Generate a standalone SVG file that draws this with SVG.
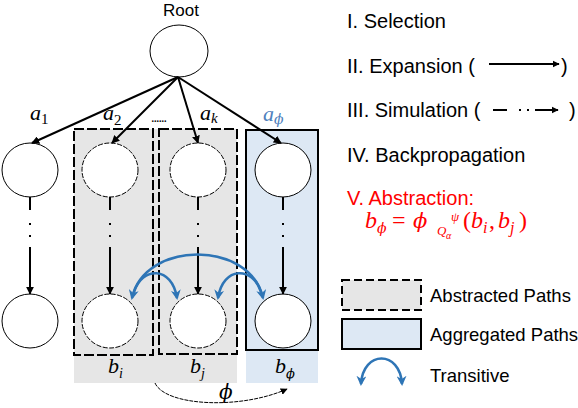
<svg xmlns="http://www.w3.org/2000/svg" width="578" height="408" viewBox="0 0 578 408">
<style>
.node{fill:#fff;stroke:#000;stroke-width:1}
.dnode{fill:#fff;stroke:#000;stroke-width:1;stroke-dasharray:5 1.5}
.sans{font-family:"Liberation Sans",Arial,sans-serif;fill:#000}
.math{font-family:"Liberation Serif","DejaVu Serif",serif;font-style:italic}
.phi{font-family:"DejaVu Serif","Liberation Serif",serif;font-style:italic}
.edge{fill:none;stroke:#000;stroke-width:2}
.sim{fill:none;stroke:#000;stroke-width:2;stroke-dasharray:13 13 2 10 2 10 60}
.trans{fill:none;stroke:#2e75b6;stroke-width:2.5}
.dbox{fill:none;stroke:#000;stroke-width:2;stroke-dasharray:10 3}
</style>
<defs>
<marker id="ah" viewBox="0 0 10 10" refX="9" refY="5" markerWidth="4" markerHeight="4" orient="auto" markerUnits="strokeWidth">
<path d="M0,0 L10,5 L0,10 z" fill="#000"/>
</marker>
<marker id="ahs" viewBox="0 0 10 10" refX="9" refY="5" markerWidth="7" markerHeight="7" orient="auto" markerUnits="strokeWidth">
<path d="M0,0 L10,5 L0,10 z" fill="#000"/>
</marker>
<marker id="bh" viewBox="0 0 10 10" refX="8" refY="5" markerWidth="4" markerHeight="4" orient="auto-start-reverse" markerUnits="strokeWidth">
<path d="M0,0 L10,5 L0,10 L3,5 z" fill="#2e75b6"/>
</marker>
</defs>

<g id="backgrounds">
<rect x="74" y="129" width="163" height="254" fill="#e6e6e6"/>
<rect x="246" y="129" width="72" height="254" fill="#dde8f4"/>
<rect class="dbox" x="74" y="129" width="79" height="226"/>
<rect class="dbox" x="159" y="129" width="78" height="225"/>
<rect x="246" y="130" width="72" height="220" fill="none" stroke="#000" stroke-width="2"/>
</g>

<g id="root">
<ellipse class="node" cx="179" cy="51" rx="29" ry="26"/>
<text class="sans" x="181" y="16" font-size="17" text-anchor="middle">Root</text>
</g>
<g id="n-a1"><ellipse class="node" cx="30" cy="170" rx="28" ry="27"/></g>
<g id="n-a2"><ellipse class="dnode" cx="110" cy="170" rx="28" ry="27"/></g>
<g id="n-ak"><ellipse class="dnode" cx="198" cy="170" rx="28" ry="27"/></g>
<g id="n-aphi"><ellipse class="node" cx="283" cy="170" rx="28" ry="27"/></g>
<g id="n-b1"><ellipse class="node" cx="30" cy="321" rx="28" ry="27"/></g>
<g id="n-bi"><ellipse class="dnode" cx="110" cy="321" rx="28" ry="27"/></g>
<g id="n-bj"><ellipse class="dnode" cx="198" cy="321" rx="28" ry="27"/></g>
<g id="n-bphi"><ellipse class="node" cx="283" cy="321" rx="28" ry="27"/></g>

<g id="connectors">
<line class="edge" x1="178" y1="77" x2="32" y2="143" marker-end="url(#ah)"/>
<line class="edge" x1="178" y1="77" x2="112" y2="143" marker-end="url(#ah)"/>
<line class="edge" x1="178" y1="77" x2="198" y2="143" marker-end="url(#ah)"/>
<line class="edge" x1="178" y1="77" x2="281" y2="143" marker-end="url(#ah)"/>
<line class="sim" x1="30" y1="197" x2="30" y2="294" marker-end="url(#ah)"/>
<line class="sim" x1="110" y1="197" x2="110" y2="294" marker-end="url(#ah)"/>
<line class="sim" x1="198" y1="197" x2="198" y2="294" marker-end="url(#ah)"/>
<line class="sim" x1="283" y1="197" x2="283" y2="294" marker-end="url(#ah)"/>
<path class="trans" d="M132,298 C145,240 250,240 263,298" marker-start="url(#bh)" marker-end="url(#bh)"/>
<path class="trans" d="M134,292 C142,266 172,266 177,298" marker-end="url(#bh)"/>
<path class="trans" d="M261,292 C253,266 223,266 218,298" marker-end="url(#bh)"/>
<path d="M155,383 C165,406 240,410 287,389" fill="none" stroke="#000" stroke-width="1" stroke-dasharray="4 1" marker-end="url(#ahs)"/>
</g>

<g id="labels" class="math" font-size="22">
<text x="30" y="120">a<tspan font-size="15" font-style="normal" dy="4">1</tspan></text>
<text x="103" y="120">a<tspan font-size="15" font-style="normal" dy="5">2</tspan></text>
<text x="151" y="122" font-style="normal" font-size="14" letter-spacing="-1">......</text>
<text x="200" y="120">a<tspan font-size="15" dy="3">k</tspan></text>
<text x="263" y="121" fill="#4f81bd">a<tspan class="phi" font-size="14" dy="3">ϕ</tspan></text>
<text x="108" y="373">b<tspan font-size="14" dy="5">i</tspan></text>
<text x="190" y="373">b<tspan font-size="14" dy="5">j</tspan></text>
<text x="275" y="373">b<tspan class="phi" font-size="13" dy="5">ϕ</tspan></text>
<text class="phi" x="219" y="399" font-size="20">ϕ</text>
</g>

<g id="legend">
<text class="sans" x="347" y="28" font-size="20">I. Selection</text>
<text class="sans" x="347" y="73" font-size="20">II. Expansion (</text>
<line x1="489" y1="64" x2="559" y2="64" stroke="#000" stroke-width="1.8" marker-end="url(#ah)"/>
<text class="sans" x="561" y="73" font-size="20">)</text>
<text class="sans" x="347" y="117" font-size="20">III. Simulation (</text>
<line x1="493" y1="110" x2="558" y2="110" stroke="#000" stroke-width="1.8" stroke-dasharray="14 12 2 6 2 6 30" marker-end="url(#ah)"/>
<text class="sans" x="569" y="117" font-size="20">)</text>
<text class="sans" x="347" y="162" font-size="20">IV. Backpropagation</text>
<text class="sans" x="347" y="205" font-size="20" style="fill:#ff0000">V. Abstraction:</text>
<text class="math" y="228" font-size="24" fill="#ff0000"><tspan x="365">b</tspan><tspan class="phi" x="377" y="233" font-size="14">ϕ</tspan><tspan x="392" y="228" font-style="normal">=</tspan><tspan class="phi" x="413" y="228" font-size="21">ϕ</tspan><tspan x="437" y="235" font-size="13">Q</tspan><tspan x="446" y="239" font-size="10">α</tspan><tspan x="451" y="221" font-size="13">ψ</tspan><tspan x="463" y="228" font-style="normal">(</tspan><tspan x="471">b</tspan><tspan x="483" y="233" font-size="16">i</tspan><tspan x="489" y="228" font-style="normal">,</tspan><tspan x="498">b</tspan><tspan x="510" y="233" font-size="16">j</tspan><tspan x="519" y="228" font-style="normal">)</tspan></text>
<rect x="342" y="280" width="79" height="30" fill="#e6e6e6" stroke="#000" stroke-width="2" stroke-dasharray="8 4"/>
<text class="sans" x="430" y="302" font-size="18.5">Abstracted Paths</text>
<rect x="342" y="319" width="79" height="30" fill="#dde8f4" stroke="#000" stroke-width="2"/>
<text class="sans" x="430" y="341" font-size="18.5">Aggregated Paths</text>
<path class="trans" d="M361,384 C363,350 400,350 402,384" marker-start="url(#bh)" marker-end="url(#bh)"/>
<text class="sans" x="430" y="382" font-size="18.5">Transitive</text>
</g>
</svg>
